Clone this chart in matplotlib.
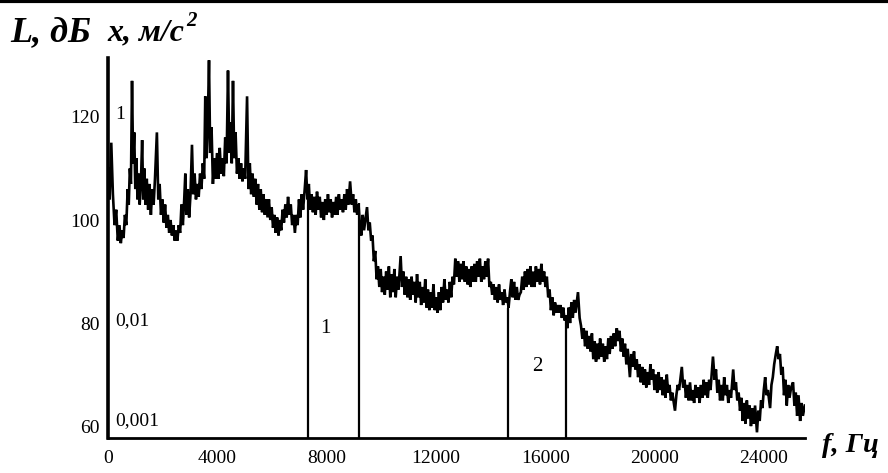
import matplotlib
matplotlib.use("Agg")
import matplotlib.pyplot as plt
from matplotlib.lines import Line2D

# spectrum: frequency, Hz / level, dB
freq = [0, 60, 120, 180, 240, 300, 360, 420, 470, 520, 570, 620, 670, 720, 760, 800, 840, 880, 920, 960,
        1000, 1040, 1080, 1120, 1160, 1210, 1250, 1290, 1330, 1370, 1420, 1470, 1520, 1570, 1620, 1670, 1720, 1790, 1840, 1890,
        1940, 1990, 2040, 2090, 2140, 2190, 2240, 2290, 2340, 2390, 2440, 2490, 2540, 2590, 2640, 2690, 2740, 2790, 2830, 2870,
        2920, 2970, 3020, 3074, 3120, 3170, 3220, 3270, 3320, 3370, 3420, 3470, 3520, 3560, 3610, 3650, 3697, 3740, 3790, 3840,
        3890, 3940, 3990, 4040, 4090, 4140, 4190, 4240, 4290, 4340, 4392, 4440, 4490, 4530, 4575, 4620, 4670, 4720, 4770, 4820,
        4870, 4920, 4970, 5020, 5090, 5140, 5190, 5240, 5290, 5340, 5390, 5440, 5490, 5540, 5590, 5640, 5690, 5740, 5790, 5840,
        5890, 5940, 5990, 6040, 6090, 6140, 6190, 6240, 6290, 6340, 6390, 6440, 6490, 6540, 6590, 6640, 6690, 6740, 6790, 6840,
        6890, 6940, 6990, 7040, 7090, 7140, 7200, 7250, 7300, 7350, 7400, 7450, 7500, 7550, 7600, 7650, 7700, 7750, 7800, 7850,
        7900, 7950, 8000, 8050, 8100, 8150, 8200, 8250, 8300, 8350, 8400, 8450, 8500, 8550, 8600, 8650, 8700, 8750, 8800, 8860,
        8920, 8970, 9020, 9070, 9120, 9170, 9220, 9270, 9320, 9370, 9420, 9480, 9530, 9580, 9630, 9680, 9730, 9780, 9830, 9880,
        9930, 9980, 10030, 10080, 10130, 10180, 10230, 10280, 10330, 10380, 10430, 10480, 10530, 10580, 10630, 10710, 10760, 10810, 10860, 10910,
        10960, 11010, 11060, 11110, 11160, 11210, 11260, 11310, 11360, 11410, 11460, 11510, 11560, 11610, 11660, 11710, 11760, 11810, 11860, 11910,
        11960, 12010, 12060, 12110, 12160, 12210, 12260, 12310, 12360, 12410, 12460, 12510, 12560, 12610, 12660, 12710, 12760, 12810, 12860, 12910,
        12960, 13010, 13060, 13110, 13160, 13210, 13260, 13310, 13360, 13410, 13460, 13510, 13560, 13610, 13660, 13710, 13760, 13810, 13860, 13910,
        13960, 14010, 14060, 14110, 14160, 14210, 14260, 14310, 14360, 14410, 14460, 14510, 14560, 14610, 14660, 14710, 14760, 14810, 14860, 14910,
        14960, 15010, 15060, 15110, 15160, 15210, 15260, 15310, 15360, 15410, 15460, 15510, 15560, 15610, 15660, 15710, 15760, 15810, 15860, 15910,
        15960, 16010, 16060, 16110, 16160, 16210, 16260, 16310, 16360, 16410, 16460, 16510, 16560, 16610, 16660, 16710, 16760, 16810, 16860, 16910,
        16960, 17010, 17060, 17110, 17200, 17260, 17310, 17360, 17410, 17460, 17510, 17560, 17610, 17660, 17710, 17760, 17810, 17860, 17910, 17960,
        18010, 18060, 18110, 18160, 18210, 18260, 18310, 18360, 18410, 18460, 18510, 18560, 18620, 18670, 18720, 18770, 18820, 18870, 18920, 18970,
        19020, 19100, 19150, 19200, 19250, 19300, 19350, 19400, 19450, 19500, 19550, 19600, 19650, 19700, 19750, 19800, 19850, 19900, 19950, 20000,
        20050, 20100, 20150, 20200, 20250, 20300, 20350, 20400, 20450, 20500, 20550, 20600, 20650, 20750, 20800, 20850, 20900, 21000, 21050, 21100,
        21150, 21200, 21250, 21300, 21350, 21400, 21450, 21500, 21550, 21600, 21650, 21700, 21750, 21800, 21850, 21900, 21950, 22000, 22050, 22140,
        22200, 22250, 22300, 22350, 22400, 22450, 22500, 22550, 22600, 22650, 22700, 22750, 22800, 22880, 22930, 22980, 23030, 23080, 23130, 23180,
        23230, 23280, 23330, 23380, 23430, 23480, 23530, 23580, 23630, 23680, 23750, 23800, 23850, 23900, 23950, 24000, 24050, 24100, 24150, 24230,
        24280, 24330, 24380, 24440, 24490, 24540, 24590, 24640, 24690, 24740, 24790, 24840, 24890, 24940, 25000, 25070, 25120, 25170, 25220, 25270,
        25330, 25380, 25430, 25500]
level = [110, 104, 115, 105, 99, 102, 96, 99, 95.5, 98, 96.5, 101, 99, 106, 103, 110, 107, 127, 111, 117,
         106, 112, 104, 109, 103, 108, 115.5, 104, 110, 103, 108, 102, 107, 101, 106, 103, 108, 117, 104, 107,
         101, 104, 99.5, 103, 98.5, 101, 97.5, 100, 97, 99, 96, 98, 96, 99, 97.5, 103, 99, 104, 109, 101,
         106, 100.5, 105, 114.6, 105, 109, 104, 107, 104.5, 109, 106, 111, 108, 124, 112, 118, 131, 113, 118, 107,
         112, 108, 113, 108, 114, 109, 112, 108.5, 116, 111, 129, 113, 119, 111, 127, 112, 117, 109, 112, 108,
         111, 107.5, 110, 108, 124, 106, 111, 105, 109, 104.5, 108, 103, 107, 102, 106, 101.5, 105, 101, 104, 100.5,
         104, 100, 102.5, 98.5, 101, 97.5, 100.5, 97, 100, 98, 102, 99.5, 103, 100.5, 104.5, 101, 103, 99, 101, 97.5,
         101, 99, 104, 100.5, 105, 102, 106, 109.7, 104, 107, 102, 105, 101.5, 104.5, 101, 105.5, 102, 104.5, 100.5, 103.5,
         100, 104, 101, 105, 101.5, 104, 100.5, 103.5, 101, 104.5, 101, 105, 102, 104, 101.5, 105, 102, 106, 103, 107.5,
         103, 105, 101.5, 104, 101, 103, 99, 97, 101, 98, 100, 102.5, 98, 99.5, 96, 97, 92, 94, 88.5, 91,
         87, 90.5, 86, 89, 85.5, 90, 86.5, 91, 85, 89.5, 86, 90.5, 85, 89, 86.5, 93, 87, 90, 85.5, 89,
         85, 88.5, 84.5, 89, 85.5, 88, 84, 89.5, 85, 88, 83.5, 87, 84, 88.5, 83, 86.5, 82.5, 86, 83, 87.5,
         82.5, 85, 82, 86, 82.5, 87, 84, 88.5, 84.5, 86.5, 84, 88, 85, 89, 87.5, 92.5, 89, 92, 88, 91.5,
         88.5, 92, 88, 91, 87.5, 90.5, 87, 91, 88, 91.5, 88, 92, 89, 92.5, 88, 91, 88.5, 92, 89, 92.5,
         87, 88, 85.5, 87.5, 84.5, 87, 84, 87.5, 84.5, 86, 83.5, 86.5, 84, 85, 83, 86, 88.5, 85, 88, 84.5,
         87, 84.5, 85.5, 86, 89, 86.5, 90, 87, 90.5, 87.5, 91, 87, 90, 87, 91, 88, 90.5, 87.5, 91.5, 88,
         90, 87, 89, 85, 86.5, 82.5, 85, 81.5, 84, 82, 83.5, 82, 83.5, 81, 83, 80.5, 81.5, 79, 83, 80,
         84, 81, 84.5, 82, 86, 81, 79.5, 77, 79, 75.5, 78.5, 75, 77.5, 74.5, 78, 73, 76.5, 72.5, 76, 73,
         77, 73.5, 76, 72.5, 75.5, 73, 77, 74, 77.5, 75, 78, 75.5, 79, 76.5, 78.5, 74.5, 77, 73.5, 76, 72,
         75, 69.5, 74, 71.5, 74.5, 71, 73, 69.5, 72, 68.5, 71.5, 68, 71, 67.5, 70.5, 68, 72, 69, 71, 67,
         70, 66.5, 70.5, 67, 69.5, 66, 69, 65.5, 70, 66.5, 68, 65, 66.5, 63, 66, 68, 67, 71.5, 67.5, 69,
         65.5, 68, 65, 68.5, 65, 67, 64.5, 68, 65.5, 67.5, 64.5, 68, 65.5, 69, 66, 68.5, 65.5, 69, 67, 73.5,
         69, 71, 66.5, 69, 65, 68, 65, 69.5, 66, 68, 64.5, 67, 65.5, 71, 67, 68.5, 65, 66.5, 63, 65.5,
         61, 64.5, 60.5, 65, 61.5, 64, 60, 63.5, 60.5, 64, 58.8, 63, 61, 65, 63.5, 67, 69.5, 66, 67, 63.5,
         68, 69.5, 72, 74, 75.5, 73, 74, 70, 71.5, 66, 69, 64, 68, 65.5, 67.5, 68.5, 64, 66.5, 62, 66,
         61, 64.5, 62, 64]

# band borders (Hz) and the level where each line meets the curve
band_f = [7320, 9190, 14640, 16760]
band_top = [107, 103.3, 83, 81]
band_names = ["1", "2"]
band_name_pos = [(7940, 79), (15700, 71.6)]

xticks = [0, 4000, 8000, 12000, 16000, 20000, 24000]
yticks = [60, 80, 100, 120]
accel_labels = ["0,001", "0,01", "1"]
accel_levels = [61, 80.4, 120.4]

serif = "Liberation Serif"

fig = plt.figure(figsize=(8.88, 4.73), dpi=100)
ax = fig.add_axes([0.1216, 0.074, 0.785, 0.803])

ax.plot(freq, level, color="black", lw=1.9, solid_joinstyle="miter")
ax.vlines(band_f, 57.7, band_top, color="black", lw=1.6)
for name, (fx, ly) in zip(band_names, band_name_pos):
    ax.text(fx, ly, name, fontsize=15, family=serif, ha="center", va="center")

ax.set_xlim(0, 25510)
ax.set_ylim(57.7, 131.4)
ax.set_xticks(xticks)
ax.set_xticklabels([str(t) for t in xticks], family=serif, fontsize=14)
ax.set_yticks(yticks)
ax.set_yticklabels([str(t) for t in yticks], family=serif, fontsize=14)
ax.tick_params(axis="both", length=0)
ax.tick_params(axis="y", pad=6)
ax.tick_params(axis="x", pad=9)

ax.spines["top"].set_visible(False)
ax.spines["right"].set_visible(False)
ax.spines["left"].set_linewidth(2.6)
ax.spines["bottom"].set_linewidth(2.0)

for lab, lv in zip(accel_labels, accel_levels):
    ax.text(256, lv, lab, fontsize=14, family=serif, ha="left", va="center")

head = dict(family=serif, weight="bold", style="italic", ha="left", va="center")
fig.text(0.011, 0.93, "L, дБ", fontsize=26, **head)
t = fig.text(0.121, 0.93, "x, м/с", fontsize=23, **head)
fig.text(0.926, 0.058, "f, Гц", fontsize=20.5, **head)

# superscript 2 right after the unit
fig.canvas.draw()
bb = t.get_window_extent().transformed(fig.transFigure.inverted())
fig.text(bb.x1 + 0.002, 0.955, "2", fontsize=15, **head)

# black rule along the top edge
fig.add_artist(Line2D([0, 1], [0.997, 0.997], transform=fig.transFigure, color="black", lw=3))

fig.savefig("out.png", dpi=100)
